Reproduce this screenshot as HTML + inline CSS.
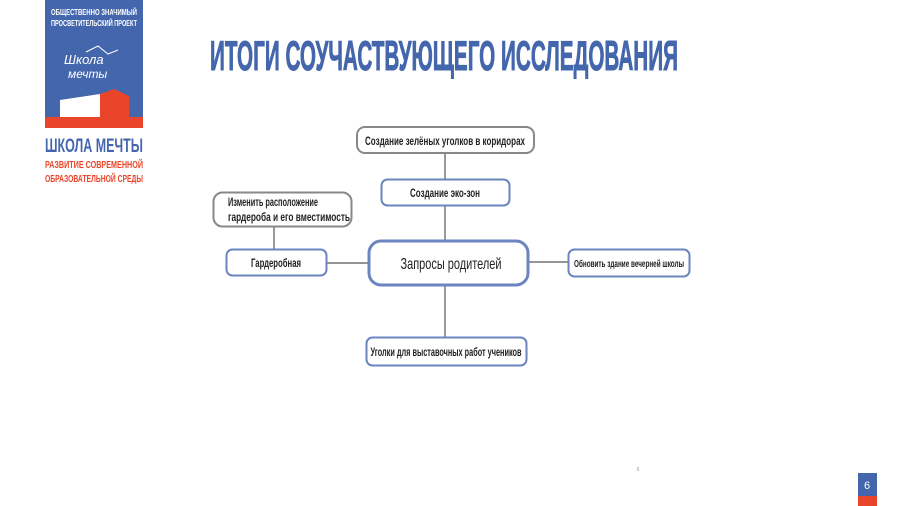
<!DOCTYPE html>
<html><head><meta charset="utf-8"><style>
html,body{margin:0;padding:0;background:#fff;}
svg{display:block;}
text{font-family:"Liberation Sans Narrow","Liberation Sans",sans-serif;}
</style></head><body>
<svg width="900" height="506" viewBox="0 0 900 506" xmlns="http://www.w3.org/2000/svg">
<!-- logo -->
<rect x="45" y="0" width="98" height="128" fill="#4466ad"/>
<text x="94" y="15" font-size="8" font-weight="bold" fill="#fff" text-anchor="middle" textLength="86" lengthAdjust="spacingAndGlyphs">ОБЩЕСТВЕННО ЗНАЧИМЫЙ</text>
<text x="94" y="26" font-size="8" font-weight="bold" fill="#fff" text-anchor="middle" textLength="86" lengthAdjust="spacingAndGlyphs">ПРОСВЕТИТЕЛЬСКИЙ ПРОЕКТ</text>
<text x="64" y="64" font-size="13" font-style="italic" fill="#fff" font-family="Liberation Serif,serif">Школа</text>
<text x="68" y="78" font-size="12" font-style="italic" fill="#fff" font-family="Liberation Serif,serif">мечты</text>
<path d="M86 52 L98 46 L108 54 L118 50" stroke="#fff" fill="none" stroke-width="1"/>
<polygon points="60,100 100,94 100,117 60,117" fill="#fff"/>
<polygon points="100,94 114,89 129,96 129,117 100,117" fill="#e8452a"/>
<rect x="45" y="117" width="98" height="11" fill="#e8452a"/>
<text x="45" y="152" font-size="19" font-weight="bold" fill="#4466ad" textLength="98" lengthAdjust="spacingAndGlyphs">ШКОЛА МЕЧТЫ</text>
<text x="45" y="168" font-size="10.5" font-weight="bold" fill="#e8452a" textLength="98" lengthAdjust="spacingAndGlyphs">РАЗВИТИЕ СОВРЕМЕННОЙ</text>
<text x="45" y="182" font-size="10.5" font-weight="bold" fill="#e8452a" textLength="98" lengthAdjust="spacingAndGlyphs">ОБРАЗОВАТЕЛЬНОЙ СРЕДЫ</text>
<!-- title -->
<text x="210" y="70" font-size="42" font-weight="bold" fill="#4466ad" stroke="#4466ad" stroke-width="1" textLength="468" lengthAdjust="spacingAndGlyphs">ИТОГИ СОУЧАСТВУЮЩЕГО ИССЛЕДОВАНИЯ</text>
<!-- connectors -->
<g stroke="#555" stroke-width="1.2">
<line x1="445" y1="153" x2="445" y2="179"/>
<line x1="445" y1="206" x2="445" y2="240"/>
<line x1="445" y1="285" x2="445" y2="337"/>
<line x1="326" y1="263" x2="368" y2="263"/>
<line x1="528" y1="262" x2="568" y2="262"/>
<line x1="274" y1="227" x2="274" y2="249"/>
</g>
<!-- boxes -->
<g fill="#fff">
<rect x="357" y="127" width="177" height="26" rx="8" stroke="#888" stroke-width="2"/>
<rect x="381.5" y="179.5" width="128" height="26" rx="6" stroke="#6a85bf" stroke-width="2"/>
<rect x="213.5" y="192.5" width="138" height="34" rx="9" stroke="#888" stroke-width="2"/>
<rect x="226.5" y="249.5" width="100" height="26" rx="6" stroke="#6a85bf" stroke-width="2"/>
<rect x="369" y="241" width="159" height="44" rx="12" stroke="#6a85bf" stroke-width="3"/>
<rect x="568.5" y="249.5" width="121" height="27" rx="6" stroke="#6a85bf" stroke-width="2"/>
<rect x="366.5" y="337.5" width="160" height="28" rx="6" stroke="#6a85bf" stroke-width="2"/>
</g>
<g fill="#222" font-size="12" font-weight="bold">
<text x="445" y="145" text-anchor="middle" textLength="160" lengthAdjust="spacingAndGlyphs">Создание зелёных уголков в коридорах</text>
<text x="445" y="197" text-anchor="middle" textLength="70" lengthAdjust="spacingAndGlyphs">Создание эко-зон</text>
<text x="228" y="206" textLength="90" lengthAdjust="spacingAndGlyphs">Изменить расположение</text>
<text x="228" y="221" textLength="122" lengthAdjust="spacingAndGlyphs">гардероба и его вместимость</text>
<text x="276" y="267" text-anchor="middle" textLength="50" lengthAdjust="spacingAndGlyphs">Гардеробная</text>
<text x="451" y="269" text-anchor="middle" font-size="16" font-weight="normal" textLength="101" lengthAdjust="spacingAndGlyphs">Запросы родителей</text>
<text x="629" y="267" text-anchor="middle" font-size="10" textLength="110" lengthAdjust="spacingAndGlyphs">Обновить здание вечерней школы</text>
<text x="446" y="356" text-anchor="middle" textLength="151" lengthAdjust="spacingAndGlyphs">Уголки для выставочных работ учеников</text>
</g>
<text x="638" y="471" font-size="5" fill="#999" text-anchor="middle">6</text>
<rect x="858" y="473" width="19" height="23" fill="#4466ad"/>
<rect x="858" y="496" width="19" height="10" fill="#e8452a"/>
<text x="864" y="489" font-size="11" fill="#fff">6</text>
</svg>
</body></html>
